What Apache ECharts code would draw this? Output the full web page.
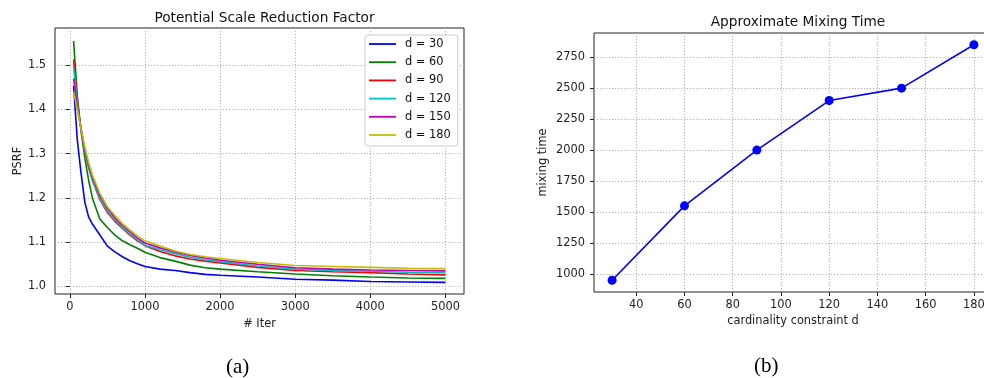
<!DOCTYPE html>
<html><head><meta charset="utf-8">
<script src="https://cdn.jsdelivr.net/npm/echarts@6/dist/echarts.min.js"></script>
<style>html,body{margin:0;padding:0;background:#fff}#c{width:984px;height:378px}</style>
</head><body><div id="c"></div>
<script>
// ---- data ----
const iters = [50,100,150,200,250,300,400,500,600,700,800,900,1000,1200,1400,1600,1800,2000,2500,3000,3500,4000,4500,5000];
const psrf_d30  = [1.453,1.330,1.255,1.190,1.157,1.141,1.116,1.091,1.078,1.067,1.058,1.051,1.045,1.039,1.036,1.031,1.027,1.025,1.021,1.016,1.014,1.011,1.010,1.009];
const psrf_d60  = [1.555,1.430,1.350,1.290,1.240,1.200,1.152,1.133,1.116,1.103,1.094,1.086,1.077,1.065,1.057,1.048,1.042,1.039,1.033,1.028,1.024,1.021,1.019,1.018];
const psrf_d90  = [1.513,1.415,1.355,1.305,1.268,1.240,1.196,1.167,1.147,1.131,1.116,1.103,1.092,1.079,1.069,1.062,1.057,1.053,1.043,1.036,1.033,1.031,1.028,1.026];
const psrf_d120 = [1.497,1.410,1.355,1.305,1.270,1.242,1.198,1.170,1.150,1.133,1.118,1.105,1.093,1.083,1.074,1.066,1.060,1.056,1.046,1.039,1.036,1.034,1.032,1.031];
const psrf_d150 = [1.470,1.405,1.355,1.310,1.275,1.248,1.205,1.176,1.155,1.138,1.123,1.109,1.098,1.087,1.078,1.070,1.064,1.059,1.050,1.042,1.039,1.037,1.036,1.035];
const psrf_d180 = [1.440,1.400,1.355,1.315,1.280,1.252,1.210,1.180,1.160,1.142,1.127,1.114,1.103,1.091,1.080,1.072,1.067,1.063,1.054,1.047,1.045,1.043,1.041,1.040];
const seriesNames = ['d = 30','d = 60','d = 90','d = 120','d = 150','d = 180'];
const dValues = [30,60,90,120,150,180];
const mixingTime = [950,1550,2000,2400,2500,2850];
const psrfTicks = [1.0,1.1,1.2,1.3,1.4,1.5];
const iterTicks = [0,1000,2000,3000,4000,5000];
const dTicks = [40,60,80,100,120,140,160,180];
const mixTicks = [1000,1250,1500,1750,2000,2250,2500,2750];

// ---- styles ----
const colors = ['#0000ff','#008000','#ff0000','#00bfbf','#bf00bf','#bfbf00'];
const FONT = 'DejaVu Sans';
const psrfAll = [psrf_d30,psrf_d60,psrf_d90,psrf_d120,psrf_d150,psrf_d180];

function axisCommon(ticks, fmt, margin) {
  return {
    axisLine: {show: false},
    axisTick: {show: true, length: 4, customValues: ticks, lineStyle: {color: '#222', width: 1}},
    axisLabel: {customValues: ticks, color: '#222', fontFamily: FONT, fontSize: 11.4, margin: margin, formatter: fmt},
    splitLine: {show: true, lineStyle: {color: '#aaaaaa', width: 0.9, type: [1.2, 1.8]}},
    nameTextStyle: {color: '#222', fontFamily: FONT, fontSize: 11.4}
  };
}

const chart = echarts.init(document.getElementById('c'), null, {renderer: 'canvas'});
const series = psrfAll.map((arr, i) => ({
  name: seriesNames[i], type: 'line', xAxisIndex: 0, yAxisIndex: 0,
  data: iters.map((x, j) => [x, arr[j]]),
  symbol: 'none', lineStyle: {color: colors[i], width: 1.6}, itemStyle: {color: colors[i]},
  animation: false, z: 2 + i
}));
series.push({
  name: 'mix', type: 'line', xAxisIndex: 1, yAxisIndex: 1,
  data: dValues.map((d, j) => [d, mixingTime[j]]),
  symbol: 'circle', symbolSize: 9, showSymbol: true,
  lineStyle: {color: '#0000ff', width: 1.6}, itemStyle: {color: '#0000ff'},
  animation: false, clip: false
});

chart.setOption({
  backgroundColor: '#ffffff',
  animation: false,
  title: [
    {text: 'Potential Scale Reduction Factor', left: 259.5, top: 6, textAlign: 'center',
     textStyle: {fontFamily: FONT, fontSize: 13.7, fontWeight: 'normal', color: '#111'}},
    {text: 'Approximate Mixing Time', left: 793, top: 10, textAlign: 'center',
     textStyle: {fontFamily: FONT, fontSize: 13.7, fontWeight: 'normal', color: '#111'}}
  ],
  legend: {
    data: seriesNames.map((n, i) => ({name: n, icon: 'rect', itemStyle: {color: colors[i], borderWidth: 0}})),
    orient: 'vertical', left: 365, top: 35,
    itemWidth: 27, itemHeight: 1.8, itemGap: 4.2,
    padding: [2, 7, 4, 4],
    backgroundColor: '#ffffff', borderColor: '#cccccc', borderWidth: 1, borderRadius: 3,
    textStyle: {fontFamily: FONT, fontSize: 11.4, color: '#111', lineHeight: 14, height: 14, padding: [0,0,0,4]},
    z: 20
  },
  grid: [
    {left: 55, right: 520, top: 28, bottom: 84, show: true, borderColor: '#222', borderWidth: 1, backgroundColor: 'transparent', outerBoundsMode: 'none', containLabel: false},
    {left: 594, right: -8, top: 33, bottom: 86, show: true, borderColor: '#222', borderWidth: 1, backgroundColor: 'transparent', outerBoundsMode: 'none', containLabel: false}
  ],
  xAxis: [
    Object.assign(axisCommon(iterTicks, v => String(v), 8), {
      type: 'value', gridIndex: 0, min: -197.5, max: 5247.5,
      name: '# Iter', nameLocation: 'middle', nameGap: 25
    }),
    Object.assign(axisCommon(dTicks, v => String(v), 8), {
      type: 'value', gridIndex: 1, min: 22.5, max: 187.5,
      name: 'cardinality constraint d', nameLocation: 'middle', nameGap: 24
    })
  ],
  yAxis: [
    Object.assign(axisCommon(psrfTicks, v => v.toFixed(1), 9), {
      type: 'value', gridIndex: 0, min: 0.9827, max: 1.5843,
      name: 'PSRF', nameLocation: 'middle', nameGap: 30, nameRotate: 90
    }),
    Object.assign(axisCommon(mixTicks, v => String(v), 9), {
      type: 'value', gridIndex: 1, min: 855, max: 2945,
      name: 'mixing time', nameLocation: 'middle', nameGap: 45, nameRotate: 90
    })
  ],
  graphic: [
    {type: 'text', left: 226, top: 357, style: {text: '(a)', font: '21px "Liberation Serif"', fill: '#000'}},
    {type: 'text', left: 754, top: 356, style: {text: '(b)', font: '21px "Liberation Serif"', fill: '#000'}}
  ],
  series: series
});
</script></body></html>
